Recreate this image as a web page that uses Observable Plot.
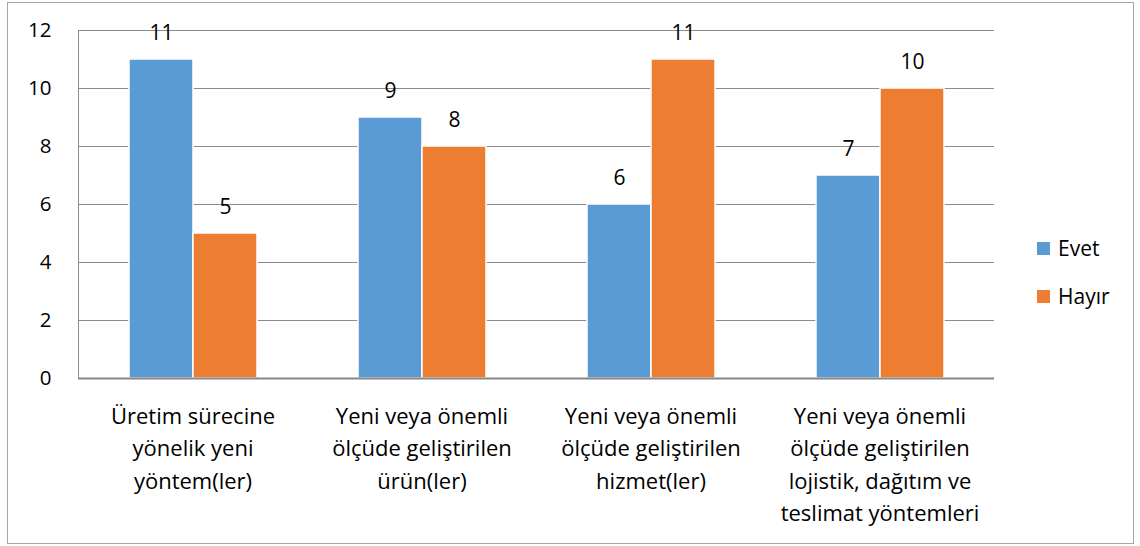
<!DOCTYPE html>
<html>
<head>
<meta charset="utf-8">
<script src="https://cdn.jsdelivr.net/npm/d3@7"></script>
<script src="https://cdn.jsdelivr.net/npm/@observablehq/plot@0.6"></script>
<style>
  html, body { margin: 0; padding: 0; background: #fff; }
  #wrap { position: relative; width: 1140px; height: 546px; font-family: "Open Sans", sans-serif; }
  #border { position: absolute; left: 7px; top: 2px; width: 1125px; height: 540px; border: 1px solid #a6a6a6; pointer-events: none; }
  #legend { position: absolute; left: 1037px; top: 233px; font-size: 21px; color: #000; }
  .row { display: flex; align-items: center; height: 30px; margin-bottom: 18px; }
  .sw { width: 13px; height: 13px; margin-right: 8px; }
</style>
</head>
<body>
<div id="wrap"><div id="chart"></div><div id="legend"></div><div id="border"></div></div>
<script>
const categories = [
  "Üretim sürecine yönelik yeni yöntem(ler)",
  "Yeni veya önemli ölçüde geliştirilen ürün(ler)",
  "Yeni veya önemli ölçüde geliştirilen hizmet(ler)",
  "Yeni veya önemli ölçüde geliştirilen lojistik, dağıtım ve teslimat yöntemleri"
];
const categoryLines = [
  ["Üretim sürecine", "yönelik yeni", "yöntem(ler)"],
  ["Yeni veya önemli", "ölçüde geliştirilen", "ürün(ler)"],
  ["Yeni veya önemli", "ölçüde geliştirilen", "hizmet(ler)"],
  ["Yeni veya önemli", "ölçüde geliştirilen", "lojistik, dağıtım ve", "teslimat yöntemleri"]
];
const series = ["Evet", "Hayır"];
const evet = [11, 9, 6, 7];
const hayir = [5, 8, 11, 10];
const yTicks = [0, 2, 4, 6, 8, 10, 12];
const colors = ["#5B9BD5", "#ED7D31"];

const data = categories.flatMap((c, i) => [
  {category: c, series: series[0], value: evet[i]},
  {category: c, series: series[1], value: hayir[i]}
]);
const labelOf = new Map(categories.map((c, i) => [c, categoryLines[i].join("\n")]));

const plot = Plot.plot({
  width: 1140,
  height: 546,
  marginLeft: 77,
  marginRight: 146,
  marginTop: 30,
  marginBottom: 168,
  style: {fontFamily: "'Open Sans', sans-serif", fontSize: "20px", color: "#000", background: "transparent"},
  fx: {domain: categories, padding: 0, label: null},
  x: {domain: series, paddingInner: 0, paddingOuter: 0.777, axis: null},
  y: {domain: [0, 12], label: null},
  color: {domain: series, range: colors},
  marks: [
    Plot.gridY(yTicks, {stroke: "#8c8c8c", strokeOpacity: 1}),
    Plot.frame({anchor: "left", stroke: "#8c8c8c", facet: "super"}),
    Plot.barY(data, {fx: "category", x: "series", y: "value", fill: "series", stroke: "white", strokeWidth: 1.5}),
    Plot.ruleY([0], {stroke: "#868686", strokeWidth: 2}),
    Plot.text(data, {fx: "category", x: "series", y: "value", text: d => String(d.value), dy: -20, lineAnchor: "bottom", fontSize: 21, fill: "#000"}),
    Plot.axisY({ticks: yTicks, tickSize: 0, tickPadding: 27, fontSize: 20.5, label: null, fill: "#000"}),
    Plot.axisFx({anchor: "bottom", tickSize: 0, tickPadding: 22, tickFormat: d => labelOf.get(d), lineHeight: 1.48, fontSize: 22, lineAnchor: "top", label: null, fill: "#000"})
  ]
});
document.getElementById("chart").appendChild(plot);

const color = plot.scale("color");
const legend = d3.select("#legend");
series.forEach(s => {
  const row = legend.append("div").attr("class", "row");
  row.append("div").attr("class", "sw").style("background", color.apply(s));
  row.append("span").text(s);
});
</script>
</body>
</html>
